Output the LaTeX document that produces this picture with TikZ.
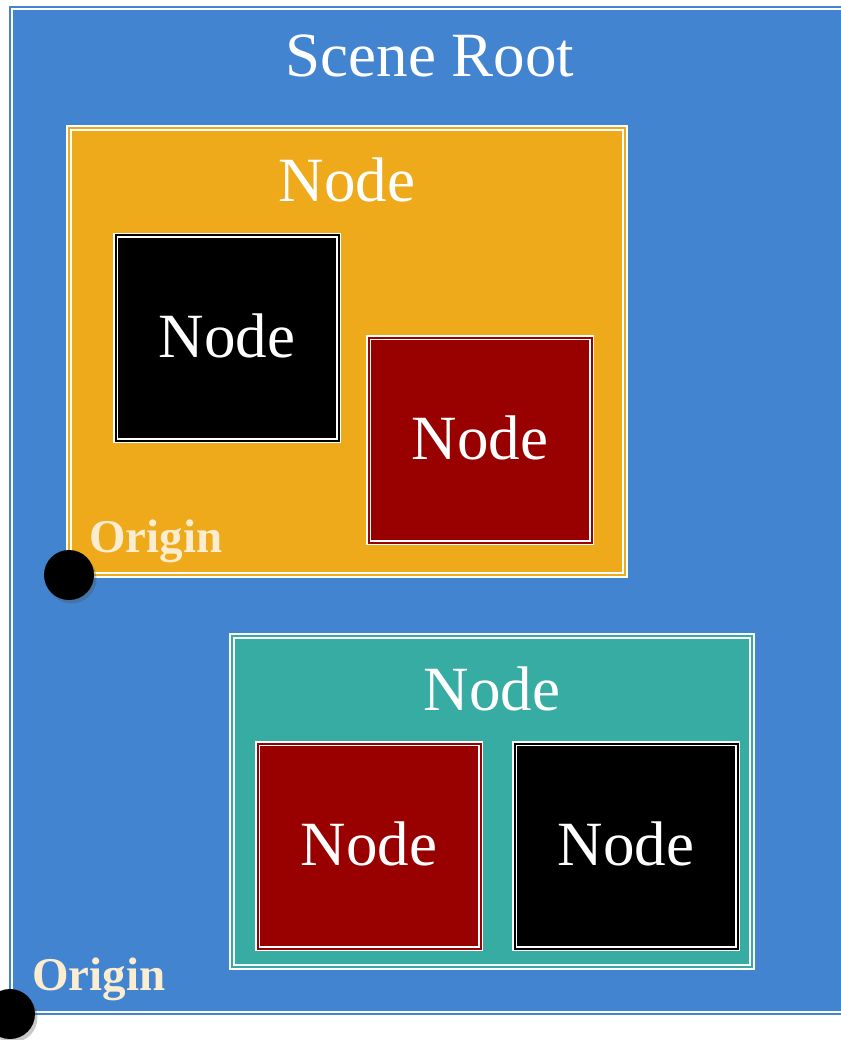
\documentclass[tikz,border=0pt]{standalone}
\usepackage{fontspec}
\setmainfont{Liberation Serif}
\usetikzlibrary{shadows}
\definecolor{rootblue}{RGB}{66,132,207}
\definecolor{nodeorange}{RGB}{238,170,27}
\definecolor{nodeteal}{RGB}{55,172,162}
\definecolor{nodered}{RGB}{153,0,0}
\definecolor{origincream}{RGB}{252,237,208}
\tikzset{
  border/.style={draw=white, double=#1, line width=1.8pt, double distance=2pt},
  box/.style={border=#1, fill=#1, rectangle, inner sep=0pt, outer sep=0pt},
  big/.style={text=white, font=\fontsize{63}{70}\selectfont, inner sep=0pt},
  innerbox/.style={box=#1, minimum width=223pt, minimum height=205pt, big, text depth=4pt},
  origintext/.style={text=origincream, font=\bfseries\fontsize{47}{50}\selectfont, inner sep=0pt},
  origindot/.style={circle, fill=black, minimum size=50pt, inner sep=0pt,
    drop shadow={shadow xshift=2.5pt, shadow yshift=-3.5pt, opacity=0.3, fill=black!70}}
}
\begin{document}
\begin{tikzpicture}[x=1pt,y=-1pt]
\useasboundingbox[fill=white] (0,0) rectangle (840,1040);
% scene root (its right side runs past the page edge)
\node[fill=rootblue, rectangle, inner sep=0pt, outer sep=0pt,
      minimum width=870pt, minimum height=1007pt] (root) at (445,510.5) {};
\draw[border=rootblue] (root.north east) -- (root.north west) -- (root.south west) -- (root.south east);
\node[big] (roottitle) at (430,56) {Scene Root};
% orange node
\node[box=nodeorange, minimum width=556pt, minimum height=447pt] (orange) at (347,351.5) {};
\node[big] (orangetitle) at (347,180) {Node};
\node[innerbox=black] (oblack) at (227,338) {Node};
\node[innerbox=nodered] (ored) at (480,440) {Node};
% teal node
\node[box=nodeteal, minimum width=520pt, minimum height=331pt] (teal) at (492,801.5) {};
\node[big] (tealtitle) at (492,689) {Node};
\node[innerbox=nodered] (tred) at (369,846) {Node};
\node[innerbox=black] (tblack) at (626,846) {Node};
% origins
\node[origintext] (origintext1) at (156,541) {Origin};
\node[origindot] (origin1) at (orange.south west) {};
\node[origintext] (origintext2) at (99,979) {Origin};
\node[origindot] (origin2) at (root.south west) {};
\end{tikzpicture}
\end{document}
